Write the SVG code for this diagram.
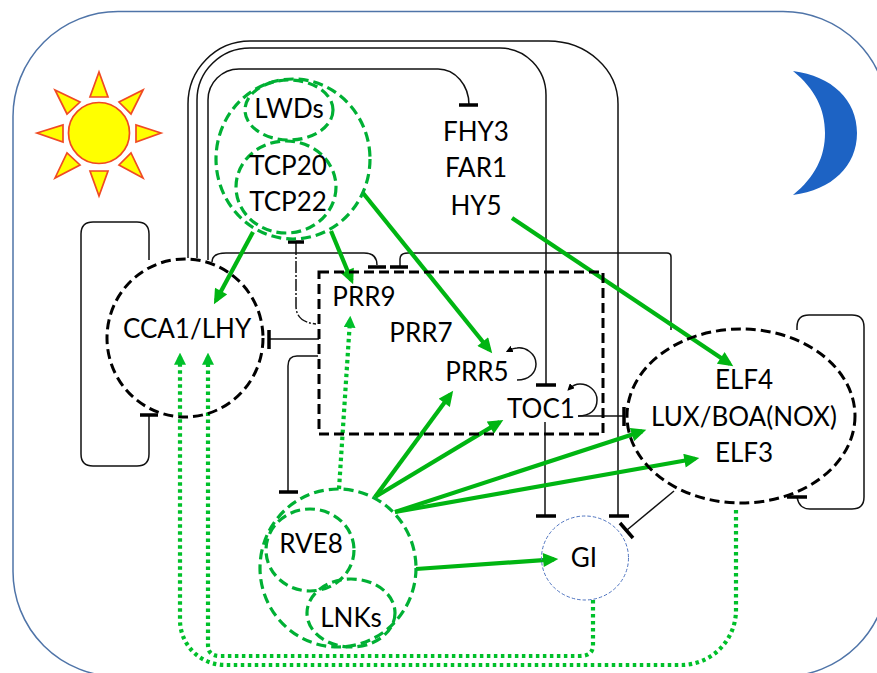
<svg xmlns="http://www.w3.org/2000/svg" width="877" height="673" viewBox="0 0 877 673">
<style>
text{font-family:"Lato","Carlito","Liberation Sans",sans-serif;font-size:26px;fill:#000;text-anchor:middle}
.ln{fill:none;stroke:#111;stroke-width:1.5}
.bar{fill:none;stroke:#000;stroke-width:3.500}
.dd{fill:none;stroke:#111;stroke-width:1.500;stroke-dasharray:12 2 2 2}
.blk{fill:none;stroke:#000;stroke-width:3;stroke-dasharray:10 5}
.grn{fill:none;stroke:#00b034;stroke-width:3.200;stroke-dasharray:10 5}
.arr{fill:none;stroke:#00b512;stroke-width:4.200;marker-end:url(#ga)}
.dot{fill:none;stroke:#00c02a;stroke-width:4.200;stroke-dasharray:3.500 3.500}
.head{marker-end:url(#gb)}
.ray{fill:#ffff00;stroke:#f04a23;stroke-width:1.700;stroke-linejoin:miter}
</style>
<defs>
<marker id="ga" markerUnits="userSpaceOnUse" markerWidth="16" markerHeight="14" refX="10" refY="6.500" orient="auto" viewBox="0 0 14 13"><path d="M0 0L14 6.500L0 13Z" fill="#00b512"/></marker>
<marker id="gb" markerUnits="userSpaceOnUse" markerWidth="12" markerHeight="12" refX="7" refY="5.500" orient="auto" viewBox="0 0 11 11"><path d="M0 0L11 5.500L0 11Z" fill="#00c02a"/></marker>
<marker id="kb" markerUnits="userSpaceOnUse" markerWidth="7" markerHeight="7" refX="4" refY="3" orient="auto" viewBox="0 0 6 6"><path d="M0 0L6 3L0 6Z" fill="#000"/></marker>
</defs>
<rect width="877" height="673" fill="#fff"/>
<rect id="frame" x="13" y="11.500" width="875" height="665" rx="105" ry="105" fill="none" stroke="#4f74a8" stroke-width="1.500"/>
<g id="sun">
<circle class="ray" cx="99" cy="133" r="30.500"/>
<path class="ray" d="M99 72L90 97H108Z"/>
<path class="ray" d="M99 196L90 171H108Z"/>
<path class="ray" d="M37 133L63 125V142Z"/>
<path class="ray" d="M161 133L136 125V142Z"/>
<path class="ray" d="M55 90L80 102L67 114Z"/>
<path class="ray" d="M143 90L131 114L119 102Z"/>
<path class="ray" d="M55 178L67 153L80 165Z"/>
<path class="ray" d="M143 178L119 165L131 153Z"/>
</g>
<path id="moon" d="M793 71C832 76 857 100 857 133C857 166 832 190 793 195C815 177 825 157 825 133C825 109 815 89 793 71Z" fill="#1d63c4"/>
<g id="connectors">
<path class="ln" d="M188 258V104A62 63 0 0 1 250 41H548A70 63 0 0 1 618 104V516"/>
<path class="ln" d="M197 258V100A53 52 0 0 1 250 48H500A46 47 0 0 1 546 95V385"/>
<path class="ln" d="M208 260V100A31 31 0 0 1 239 69H438A31 36 0 0 1 469 105"/>
<path class="ln" d="M212 262Q212 253 226 253H364Q377 253 377 265"/>
<path class="ln" d="M400 267V259Q400 253 408 253H667Q671 253 671 257V330"/>
<path class="dd" d="M296 243V306Q296 322 316 324"/>
<path class="ln" d="M319 339H270"/>
<path class="ln" d="M318 356H297Q288 356 288 366V492"/>
<path class="ln" d="M149 260V234Q149 222 137 222H93Q81 222 81 234V454Q81 466 93 466H137Q149 466 149 454V416"/>
<path class="ln" d="M797 330V327Q797 315 809 315H852Q864 315 864 327V497Q864 509 852 509H810Q799 509 797 497"/>
<path class="ln" d="M545 422V516"/>
<path class="ln" d="M674 491L627 530"/>
<path class="ln" d="M578 416H624"/>
<path class="ln" d="M517 380C530 380 536 372 536 364C536 353 525 347 517 348C513 348 510 350 508 351" marker-end="url(#kb)"/>
<path class="ln" d="M578 416C590 416 597 410 597 400C597 390 588 384 580 384C575 384 571 387 569 389" marker-end="url(#kb)"/>
<path class="bar" d="M459 105H478M368 267H386M390 267H408M288 242H304M269 330V349M279 492H298M140 415H158M787 497H807M536 385H556M536 516H556M609 516H629M620 523L633 538"/>
<path class="bar" d="M624 407V426"/>
<path class="arr" d="M253 232L216 300.500"/>
<path class="arr" d="M331 231L351.500 280.300"/>
<path class="arr" d="M363 193L489.500 350"/>
<path class="arr" d="M512 218L729.700 363.800"/>
<path class="arr" d="M375 497L450.600 394.200"/>
<path class="arr" d="M375 497L499.600 422.100"/>
<path class="arr" d="M395 512L642.200 431.200"/>
<path class="arr" d="M395 512L695.100 458.700"/>
<path class="arr" d="M416 569L554 559.300"/>
<path class="dot head" d="M339 489L350 320"/>
<path class="dot head" d="M736 510V610A55 55 0 0 1 681 665H225A45 45 0 0 1 180 620V357"/>
<path class="dot head" d="M593 600V645Q593 656 580 656H220Q208 656 208 645V357"/>
</g>
<g id="node-lwds-group">
<ellipse class="grn" cx="293" cy="159" rx="77" ry="80"/>
</g>
<g id="node-lwds">
<ellipse class="grn" cx="289" cy="110" rx="44" ry="30"/>
<text x="289" y="118">LWDs</text>
</g>
<g id="node-tcp">
<ellipse class="grn" cx="286" cy="187" rx="50" ry="46"/>
<text x="288" y="175">TCP20</text>
<text x="288" y="211">TCP22</text>
</g>
<g id="node-fhy">
<text x="476" y="141">FHY3</text>
<text x="476" y="177">FAR1</text>
<text x="476" y="215">HY5</text>
</g>
<g id="node-cca">
<ellipse class="blk" cx="185" cy="338" rx="78" ry="79"/>
<text x="187" y="338">CCA1/LHY</text>
</g>
<g id="node-prr">
<rect class="blk" x="319" y="272" width="284" height="162"/>
<text x="364" y="306">PRR9</text>
<text x="421" y="342">PRR7</text>
<text x="477" y="381">PRR5</text>
<text x="541" y="418">TOC1</text>
</g>
<g id="node-elf">
<ellipse class="blk" cx="741" cy="416" rx="114" ry="87"/>
<text x="744" y="389">ELF4</text>
<text x="744" y="426">LUX/BOA(NOX)</text>
<text x="744" y="462">ELF3</text>
</g>
<g id="node-rve-group">
<ellipse class="grn" cx="338" cy="568" rx="78" ry="79"/>
</g>
<g id="node-rve8">
<ellipse class="grn" cx="310" cy="550" rx="44" ry="41"/>
<text x="311" y="553">RVE8</text>
</g>
<g id="node-lnks">
<ellipse class="grn" cx="351" cy="613" rx="44" ry="34"/>
<text x="351" y="627">LNKs</text>
</g>
<g id="node-gi">
<ellipse cx="585" cy="558" rx="43.500" ry="42" fill="none" stroke="#4f74c0" stroke-width="1" stroke-dasharray="3.500 2"/>
<text x="584" y="567">GI</text>
</g>
</svg>
